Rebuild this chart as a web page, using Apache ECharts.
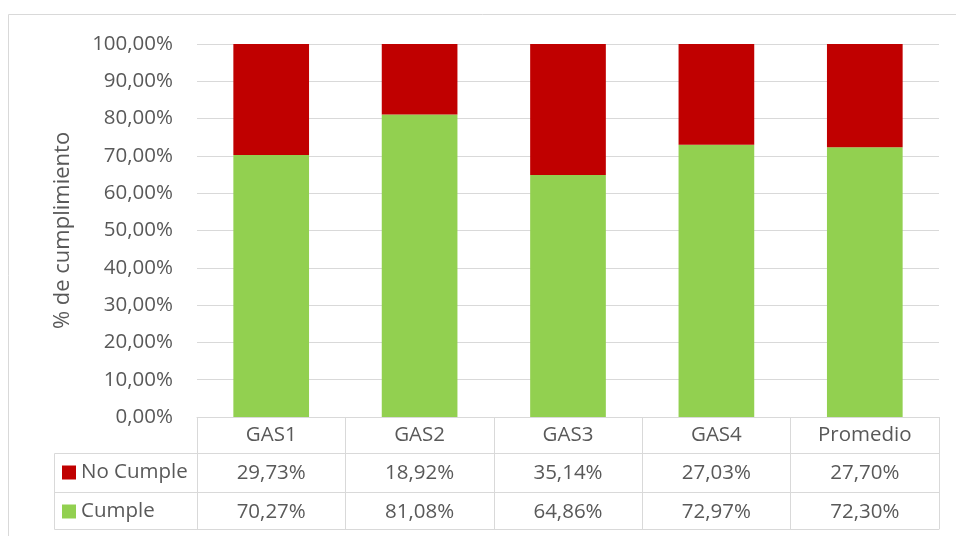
<!DOCTYPE html>
<html lang="es">
<head>
    <meta charset="UTF-8">
    <title>% de cumplimiento</title>
    <style type="text/css">
        *{
            margin: 0;
            padding: 0;
        }
        #main{
            width: 956px;
            height: 536px;
            position: absolute;
        }
    </style>
</head>
<body>
    <div id="main"></div>
    <script src="https://cdn.jsdelivr.net/npm/echarts@6/dist/echarts.min.js"></script>
    <script type="text/javascript">
        var categories = ['GAS1', 'GAS2', 'GAS3', 'GAS4', 'Promedio'];
        var noCumple = [29.73, 18.92, 35.14, 27.03, 27.70];
        var cumple = [70.27, 81.08, 64.86, 72.97, 72.30];

        var textColor = '#595959';
        var lineColor = '#D9D9D9';
        var font = 'Open Sans';
        var fontSize = 20.5;

        function pct(v) {
            return v.toFixed(2).replace('.', ',') + '%';
        }

        var myChart = echarts.init(document.getElementById('main'));

        // filas de la tabla de datos: un eje x por cada linea
        function tableAxis(offset, values) {
            return {
                type: 'category',
                data: categories,
                position: 'bottom',
                offset: offset,
                axisLine: { show: true, lineStyle: { color: lineColor, width: 1 } },
                axisTick: { show: false },
                axisLabel: {
                    show: !!values,
                    interval: 0,
                    margin: 20,
                    verticalAlign: 'middle',
                    color: textColor,
                    fontFamily: font,
                    fontSize: fontSize,
                    formatter: function (v, i) { return values ? pct(values[i]) : ''; }
                },
                splitLine: { show: false }
            };
        }

        var option = {
            animation: false,
            grid: {
                left: 197,
                right: 17,
                top: 44,
                bottom: 119
            },
            legend: {
                orient: 'vertical',
                left: 62,
                top: 462,
                padding: 0,
                itemWidth: 14,
                itemHeight: 14,
                itemGap: 18,
                icon: 'rect',
                data: ['No Cumple', 'Cumple'],
                textStyle: {
                    color: textColor,
                    fontFamily: font,
                    fontSize: fontSize,
                    lineHeight: 20
                }
            },
            xAxis: [
                {
                    type: 'category',
                    data: categories,
                    axisLine: { show: true, lineStyle: { color: lineColor } },
                    axisTick: { show: true, length: 112, interval: 0, lineStyle: { color: lineColor } },
                    axisLabel: {
                        interval: 0,
                        margin: 18,
                        verticalAlign: 'middle',
                        color: textColor,
                        fontFamily: font,
                        fontSize: fontSize
                    }
                },
                tableAxis(36, noCumple),
                tableAxis(75, cumple),
                tableAxis(112, null)
            ],
            yAxis: {
                type: 'value',
                min: 0,
                max: 100,
                interval: 10,
                name: '% de cumplimiento',
                nameLocation: 'middle',
                nameGap: 123,
                nameTextStyle: {
                    color: textColor,
                    fontFamily: font,
                    fontSize: 22
                },
                axisLine: { show: false },
                axisTick: { show: false },
                axisLabel: {
                    margin: 24,
                    color: textColor,
                    fontFamily: font,
                    fontSize: fontSize,
                    formatter: function (v) { return pct(v); }
                },
                splitLine: { lineStyle: { color: lineColor, width: 1 } }
            },
            graphic: [
                // marco exterior
                {
                    type: 'rect',
                    shape: { x: 8.5, y: 14.5, width: 1000, height: 600 },
                    style: { fill: null, stroke: lineColor, lineWidth: 1 },
                    silent: true
                },
                // columna de leyenda de la tabla
                {
                    type: 'rect',
                    shape: { x: 54.5, y: 453.5, width: 143, height: 76 },
                    style: { fill: null, stroke: lineColor, lineWidth: 1 },
                    silent: true
                },
                {
                    type: 'line',
                    shape: { x1: 54.5, y1: 492.5, x2: 197, y2: 492.5 },
                    style: { stroke: lineColor, lineWidth: 1 },
                    silent: true
                }
            ],
            series: [
                {
                    name: 'Cumple',
                    type: 'bar',
                    stack: 'total',
                    barWidth: '51%',
                    data: cumple,
                    itemStyle: { color: '#92D050' }
                },
                {
                    name: 'No Cumple',
                    type: 'bar',
                    stack: 'total',
                    barWidth: '51%',
                    data: noCumple,
                    itemStyle: { color: '#C00000' }
                }
            ]
        };

        myChart.setOption(option);
    </script>
</body>
</html>
